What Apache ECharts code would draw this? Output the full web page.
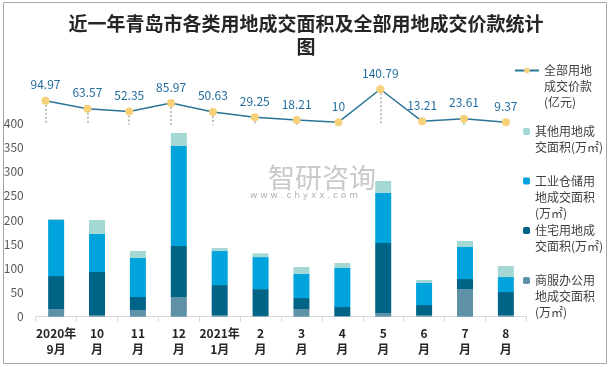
<!DOCTYPE html>
<html><head><meta charset="utf-8">
<script src="https://cdn.jsdelivr.net/npm/echarts@6/dist/echarts.min.js"></script>
<style>html,body{margin:0;padding:0;background:#fff}#c{width:612px;height:367px}</style>
</head><body><div id="c"></div>
<script>
const categories = ['2020年\n9月','10\n月','11\n月','12\n月','2021年\n1月','2\n月','3\n月','4\n月','5\n月','6\n月','7\n月','8\n月'];
const commercial  = [15.9, 3.4, 13.8, 40.7, 3.4, 1.6, 15.9, 1.4, 7.6, 3.4, 57.2, 3.4];
const residential = [68.2, 89.0, 26.9, 105.3, 62.0, 55.5, 22.7, 18.6, 144.8, 20.7, 20.7, 47.6];
const industrial  = [115.9, 78.6, 80.7, 207.0, 70.4, 66.2, 49.7, 80.7, 103.5, 45.6, 66.2, 31.0];
const other       = [2.0, 29.0, 14.5, 27.0, 6.2, 7.6, 14.5, 10.3, 24.8, 6.2, 12.5, 22.8];
const totalPrice  = [94.97, 63.57, 52.35, 85.97, 50.63, 29.25, 18.21, 10, 140.79, 13.21, 23.61, 9.37];
const yTicks = [0, 50, 100, 150, 200, 250, 300, 350, 400];

const names = {
  price: '全部用地成交价款(亿元)',
  other: '其他用地成交面积(万㎡)',
  ind: '工业仓储用地成交面积(万㎡)',
  res: '住宅用地成交面积(万㎡)',
  com: '商服办公用地成交面积(万㎡)'
};
const legendText = {};
legendText[names.price] = '\n\n全部用地\n成交价款\n(亿元)';
legendText[names.other] = '\n其他用地成\n交面积(万㎡)';
legendText[names.ind] = '\n\n工业仓储用\n地成交面积\n(万㎡)';
legendText[names.res] = '\n住宅用地成\n交面积(万㎡)';
legendText[names.com] = '\n\n商服办公用\n地成交面积\n(万㎡)';

const FONT = '"Noto Sans CJK SC", "Noto Sans", sans-serif';
const colors = { other: '#a3d8d5', ind: '#00a3dc', res: '#006487', com: '#5e91a8' };

function mkLegend(name, top, left, w, h) {
  return {
    data: [name], top: top, left: left, orient: 'vertical', padding: 0,
    itemWidth: w, itemHeight: h, selectedMode: false,
    formatter: n => legendText[n],
    textStyle: { fontFamily: FONT, fontSize: 12, lineHeight: 16, color: '#404040' }
  };
}

const chart = echarts.init(document.getElementById('c'), null, { renderer: 'canvas' });
chart.setOption({
  animation: false,
  backgroundColor: '#fff',
  title: {
    text: '近一年青岛市各类用地成交面积及全部用地成交价款统计\n图',
    left: 'center', top: 12, padding: 0,
    textStyle: { fontFamily: FONT, fontSize: 19, fontWeight: 'bold', lineHeight: 23.5, color: '#262626', align: 'center' }
  },
  graphic: [
    { type: 'rect', shape: { x: 3.5, y: 2.5, width: 603, height: 361 }, style: { fill: 'none', stroke: '#a6a6a6', lineWidth: 1 }, silent: true, z: -10 },
    { type: 'text', left: 268, top: 164, style: { text: '智研咨询', fontFamily: FONT, fontSize: 27, fill: '#c9c9c9' }, silent: true, z: -5 },
    { type: 'text', left: 250, top: 191, style: { text: 'w w w . c h y x x . c o m', fontFamily: 'DejaVu Sans', fontSize: 9, fill: '#b3b3b3' }, silent: true, z: -5 }
  ],
  legend: [
    mkLegend(names.price, 30.5, 514, 24, 7),
    mkLegend(names.other, 107.5, 523, 7, 7),
    mkLegend(names.ind, 141, 523, 7, 7),
    mkLegend(names.res, 206.5, 523, 7, 7),
    mkLegend(names.com, 240.5, 523, 7, 7)
  ],
  grid: [
    { left: 35.7, right: 85.7, top: 123.3, bottom: 50.3 },
    { left: 24.6, right: 85.2, top: 74.4, height: 50.25 }
  ],
  xAxis: [
    {
      type: 'category', gridIndex: 0, data: categories,
      axisLine: { lineStyle: { color: '#d9d9d9', width: 1 } },
      axisTick: { show: true, length: 5, lineStyle: { color: '#d9d9d9' } },
      axisLabel: { interval: 0, margin: 9, fontFamily: FONT, fontSize: 12, fontWeight: 'bold', lineHeight: 15.6, color: '#262626' }
    },
    { type: 'category', gridIndex: 1, data: categories, show: false }
  ],
  yAxis: [
    {
      type: 'value', gridIndex: 0, min: yTicks[0], max: yTicks[yTicks.length - 1], interval: 50,
      axisLine: { show: false }, axisTick: { show: false }, splitLine: { show: false },
      axisLabel: { margin: 12, fontFamily: FONT, fontSize: 12, color: '#595959' }
    },
    { type: 'value', gridIndex: 1, min: 0, max: 200, show: false, splitLine: { show: false } }
  ],
  series: [
    { name: names.com, type: 'bar', stack: 'a', xAxisIndex: 0, yAxisIndex: 0, barWidth: 16, data: commercial, itemStyle: { color: colors.com } },
    { name: names.res, type: 'bar', stack: 'a', xAxisIndex: 0, yAxisIndex: 0, barWidth: 16, data: residential, itemStyle: { color: colors.res } },
    { name: names.ind, type: 'bar', stack: 'a', xAxisIndex: 0, yAxisIndex: 0, barWidth: 16, data: industrial, itemStyle: { color: colors.ind } },
    { name: names.other, type: 'bar', stack: 'a', xAxisIndex: 0, yAxisIndex: 0, barWidth: 16, data: other, itemStyle: { color: colors.other } },
    {
      name: names.price, type: 'line', xAxisIndex: 1, yAxisIndex: 1, data: totalPrice, z: 10,
      symbol: 'circle', symbolSize: 8,
      lineStyle: { color: '#2b7597', width: 1.5 },
      itemStyle: { color: '#f7d07a', borderWidth: 0 },
      label: { show: true, position: 'top', distance: 6, fontFamily: FONT, fontSize: 12, color: '#236e9e' },
      markLine: {
        silent: true, symbol: 'none', z: 3,
        label: { show: false },
        lineStyle: { type: [2, 2], color: '#bfbfbf', width: 2 },
        data: totalPrice.map((v, i) => [{ coord: [i, v] }, { coord: [i, 0] }])
      }
    }
  ]
});
</script></body></html>
